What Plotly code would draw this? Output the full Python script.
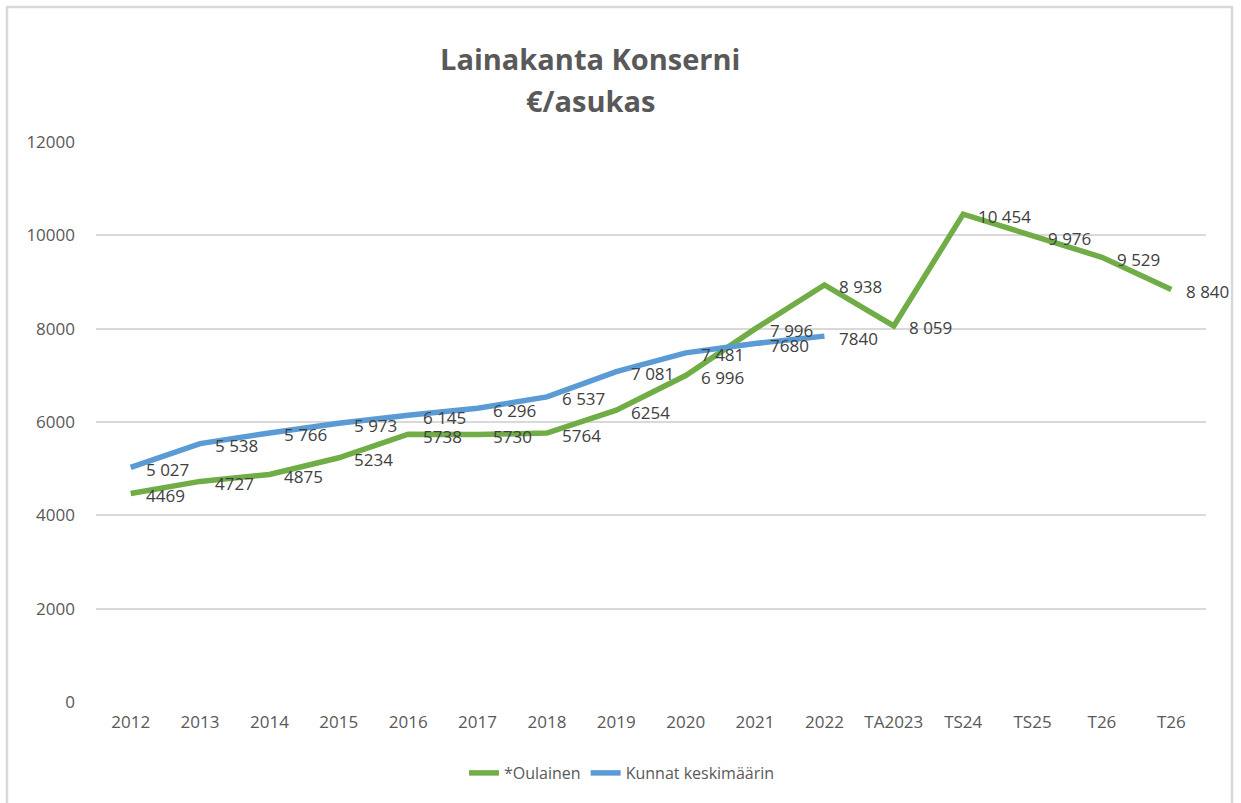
import plotly.graph_objects as go

categories = ["2012", "2013", "2014", "2015", "2016", "2017", "2018", "2019",
              "2020", "2021", "2022", "TA2023", "TS24", "TS25", "T26", "T26"]
oulainen = [4469, 4727, 4875, 5234, 5738, 5730, 5764, 6254, 6996, 7996,
            8938, 8059, 10454, 9976, 9529, 8840]
oulainen_labels = ["4469", "4727", "4875", "5234", "5738", "5730", "5764", "6254",
                   "6 996", "7 996", "8 938", "8 059", "10 454", "9 976", "9 529", "8 840"]
kunnat = [5027, 5538, 5766, 5973, 6145, 6296, 6537, 7081, 7481, 7680, 7840]
kunnat_labels = ["5 027", "5 538", "5 766", "5 973", "6 145", "6 296", "6 537",
                 "7 081", "7 481", "7680", "7840"]
y_ticks = [0, 2000, 4000, 6000, 8000, 10000, 12000]
title_lines = ["Lainakanta Konserni", "€/asukas"]

GREEN = "#70AD47"
BLUE = "#5B9BD5"
FONT = "Open Sans"

xi = list(range(len(categories)))

fig = go.Figure()
fig.add_trace(go.Scatter(x=xi, y=oulainen, mode="lines", name="*Oulainen",
                         line=dict(color=GREEN, width=5.5)))
fig.add_trace(go.Scatter(x=xi[:len(kunnat)], y=kunnat, mode="lines",
                         name="Kunnat keskimäärin",
                         line=dict(color=BLUE, width=5.5)))

annotations = []
for i, (v, t) in enumerate(zip(oulainen, oulainen_labels)):
    annotations.append(dict(x=xi[i], y=v, xref="x", yref="y", text=t,
                            showarrow=False, xanchor="left", yanchor="middle",
                            xshift=13, yshift=-2,
                            font=dict(family=FONT, size=17, color="#404040")))
for i, (v, t) in enumerate(zip(kunnat, kunnat_labels)):
    annotations.append(dict(x=xi[i], y=v, xref="x", yref="y", text=t,
                            showarrow=False, xanchor="left", yanchor="middle",
                            xshift=13, yshift=-2,
                            font=dict(family=FONT, size=17, color="#404040")))

for line, ypx in zip(title_lines, [58, 100]):
    annotations.append(dict(x=(590 - 96) / 1110, y=(702 - ypx) / 560,
                            xref="paper", yref="paper",
                            text="<b>" + line + "</b>", showarrow=False,
                            xanchor="center", yanchor="middle",
                            font=dict(family=FONT, size=29, color="#595959")))

fig.update_layout(
    width=1241, height=803,
    margin=dict(l=96, r=35, t=142, b=101),
    paper_bgcolor="white", plot_bgcolor="white",
    showlegend=True,
    legend=dict(orientation="h", x=(622 - 96) / 1110, xanchor="center",
                y=(702 - 773) / 560, yanchor="middle",
                font=dict(family=FONT, size=16, color="#595959")),
    annotations=annotations,
    shapes=[dict(type="rect", xref="paper", yref="paper",
                 x0=(7 - 96) / 1110, x1=(1232 - 96) / 1110,
                 y0=(702 - 820) / 560, y1=(702 - 7) / 560,
                 line=dict(color="#D9D9D9", width=2.5), layer="below")],
    xaxis=dict(tickmode="array", tickvals=xi, ticktext=categories,
               range=[-0.5, len(categories) - 0.5], showgrid=False,
               zeroline=False, showline=False, ticks="",
               tickfont=dict(family=FONT, size=17, color="#595959")),
    yaxis=dict(range=[0, 12000], tickvals=y_ticks, tickformat="d",
               showgrid=True, gridcolor="#D9D9D9", gridwidth=1.5,
               zeroline=False, showline=False, ticks="", ticklen=0,
               tickfont=dict(family=FONT, size=17, color="#595959")),
)
fig.update_yaxes(ticklabelstandoff=20)
fig.update_xaxes(ticklabelstandoff=8)

fig.write_html("out.html", config={"displayModeBar": False},
               post_script="document.body.style.margin='0';document.body.style.overflow='hidden';")
